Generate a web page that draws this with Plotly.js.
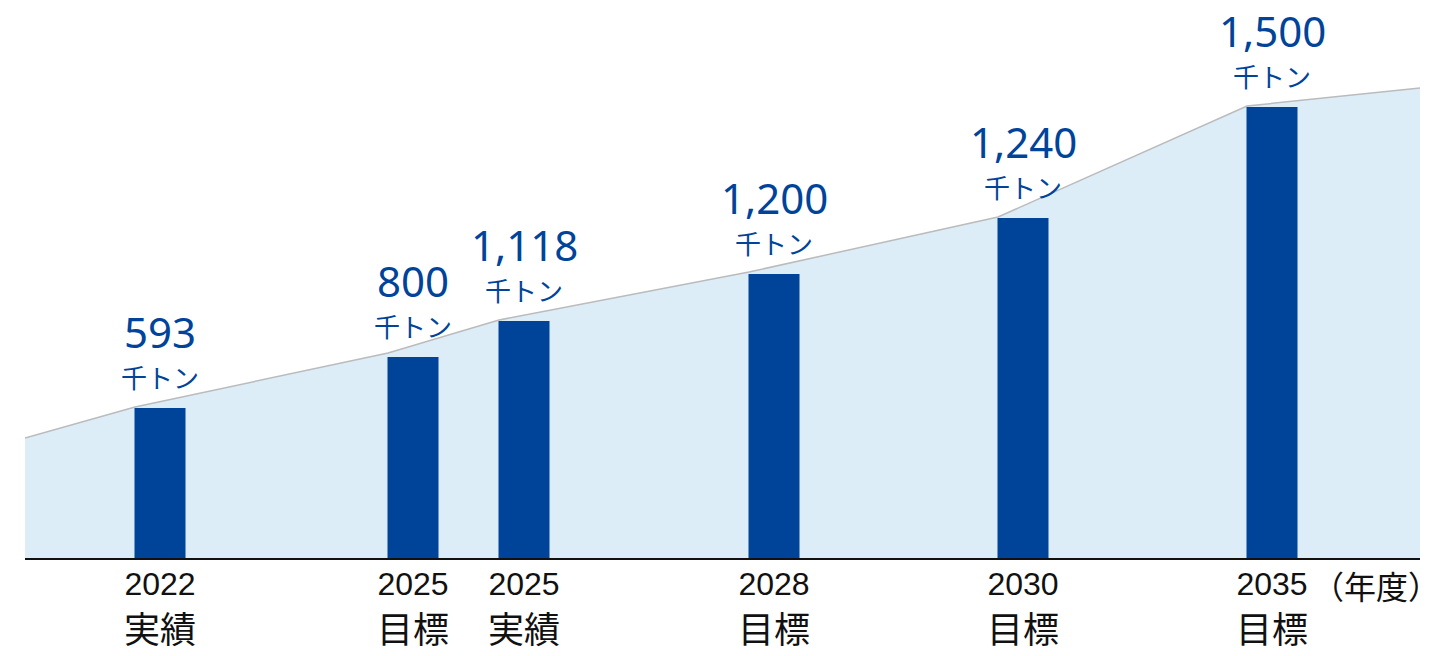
<!DOCTYPE html>
<html>
<head>
<meta charset="utf-8">
<script src="https://cdn.plot.ly/plotly-3.0.1.min.js"></script>
<style>
  html, body { margin: 0; padding: 0; background: #fff; }
  #plot { width: 1440px; height: 656px; }
</style>
</head>
<body>
<div id="plot"></div>
<script>
// bar positions / heights (the drawing is not to scale)
let barX = [160, 413, 524, 774, 1023, 1272];
let barLevel = [150, 201, 237, 284, 340, 451];
let valueText = ["593", "800", "1,118", "1,200", "1,240", "1,500"];
let years = ["2022", "2025", "2025", "2028", "2030", "2035"];
let kinds = ["実績", "目標", "実績", "目標", "目標", "目標"];

// background band behind the bars
let bandX = [25, 135, 388, 499, 749, 998, 1247, 1420];
let bandY = [120, 151, 205, 238, 286, 341, 452, 470];

let blue = "#00449a";
let cjk = "Noto Sans CJK JP, Noto Sans, sans-serif";
let numFont = "Noto Sans, Noto Sans CJK JP, sans-serif";
let yearFont = "Liberation Sans, Arial, sans-serif";

// band on the base axes, bars on an overlaying pair so they sit on top of the fill
let band = {
  x: bandX,
  y: bandY,
  type: 'scatter',
  mode: 'lines',
  fill: 'tozeroy',
  fillcolor: '#ddedf8',
  line: { color: '#bbbbbb', width: 1.5 },
  hoverinfo: 'skip'
};

let bars = {
  x: barX,
  y: barLevel,
  xaxis: 'x2',
  yaxis: 'y2',
  type: 'bar',
  width: barX.map(() => 51),
  marker: { color: blue },
  hoverinfo: 'skip'
};

let notes = [];
for (let i = 0; i < barX.length; i++) {
  notes.push({
    x: barX[i], y: barLevel[i], xref: 'x', yref: 'y',
    text: "千トン", showarrow: false, yanchor: 'middle', yshift: 32,
    font: { family: cjk, size: 26, color: blue }
  });
  notes.push({
    x: barX[i], y: barLevel[i], xref: 'x', yref: 'y',
    text: valueText[i], showarrow: false, yanchor: 'middle', yshift: 77,
    font: { family: numFont, size: 42, color: blue }
  });
  notes.push({
    x: barX[i], y: 0, xref: 'x', yref: 'y',
    text: kinds[i], showarrow: false, yanchor: 'top', yshift: -42,
    borderpad: 0,
    font: { family: cjk, size: 36, color: '#111' }
  });
}
notes.push({
  x: 1376, y: 0, xref: 'x', yref: 'y',
  text: "（年度）", showarrow: false, yanchor: 'middle', yshift: -27,
  font: { family: cjk, size: 32, color: '#111' }
});

let xBase = {
  range: [25, 1420],
  showgrid: false,
  zeroline: false,
  fixedrange: true
};

Plotly.newPlot('plot', [band, bars], {
  width: 1440,
  height: 656,
  margin: { l: 25, r: 20, t: 0, b: 98 },
  paper_bgcolor: '#fff',
  plot_bgcolor: 'rgba(0,0,0,0)',
  showlegend: false,
  xaxis: Object.assign({}, xBase, {
    tickvals: barX,
    ticktext: years,
    ticks: '',
    ticklabelstandoff: 4,
    showline: false,
    tickfont: { family: yearFont, size: 32, color: '#111' }
  }),
  yaxis: { range: [0, 558], visible: false, fixedrange: true },
  xaxis2: Object.assign({}, xBase, {
    overlaying: 'x',
    showticklabels: false,
    showline: true,
    linecolor: '#111',
    linewidth: 2
  }),
  yaxis2: { range: [0, 558], visible: false, overlaying: 'y', fixedrange: true },
  annotations: notes
}, { staticPlot: true });
</script>
</body>
</html>
